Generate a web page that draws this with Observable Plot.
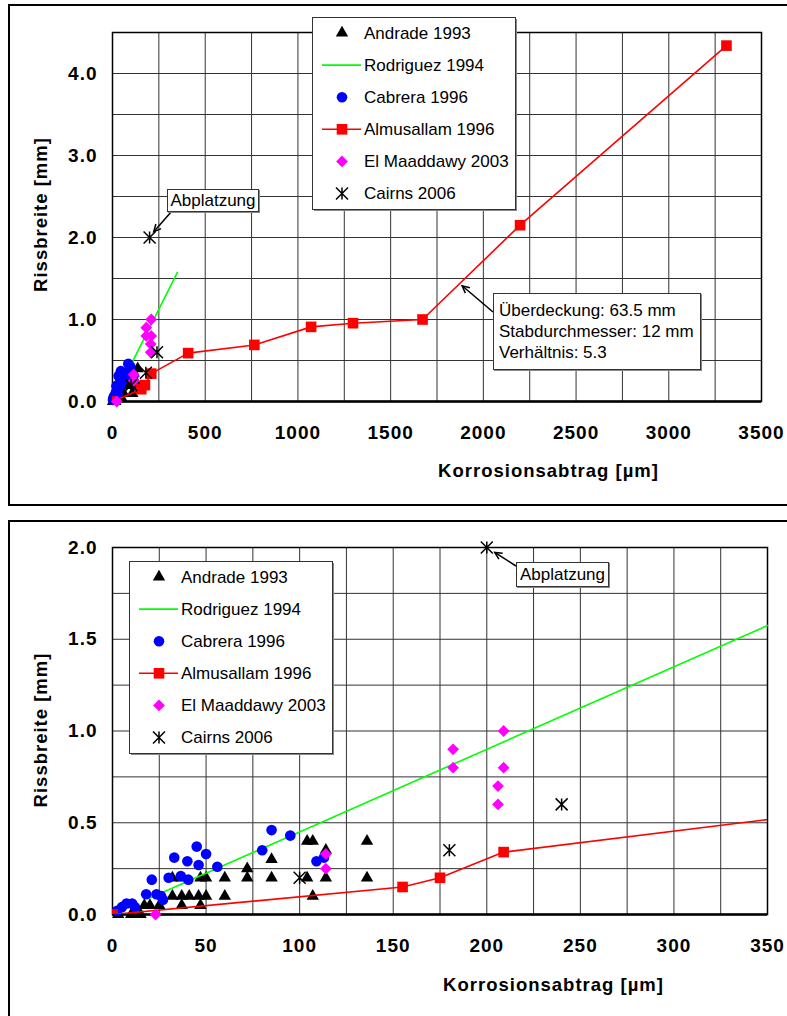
<!DOCTYPE html>
<html><head><meta charset="utf-8">
<script src="https://cdn.jsdelivr.net/npm/d3@7"></script>
<script src="https://cdn.jsdelivr.net/npm/@observablehq/plot@0.6"></script>
<style>
html,body{margin:0;padding:0;background:#fff;overflow:hidden;width:787px;height:1016px;}
#root{position:relative;width:787px;height:1016px;overflow:hidden;font-family:"Liberation Sans",Arial,sans-serif;}
.panel{position:absolute;border:2px solid #000;box-sizing:content-box;background:#fff;}
.chart{position:absolute;left:0;}
.chart text{letter-spacing:1px;}
.note{position:absolute;background:#fff;border:1px solid #333;box-shadow:1px 1px 0 #888;font-size:17px;line-height:21px;color:#000;white-space:nowrap;box-sizing:border-box;}
</style></head><body><div id="root"></div>
<script>
// ---------- data ----------
const seriesNames = ["Andrade 1993","Rodriguez 1994","Cabrera 1996","Almusallam 1996","El Maaddawy 2003","Cairns 2006"];
// [Korrosionsabtrag µm, Rissbreite mm]
const andrade = [[3,0],[10,0],[15,0],[17,0.05],[20,0.05],[25,0.05],[32,0.1],[37,0.1],[41,0.1],[46,0.1],[50,0.1],[60,0.1],
  [37,0.05],[47,0.05],[32,0.2],[37,0.2],[47,0.2],[50,0.2],[60,0.2],[72,0.25],[72,0.2],[85,0.3],[85,0.2],
  [104,0.4],[107,0.4],[104,0.2],[107,0.1],[114,0.35],[114,0.2],[136,0.4],[136,0.2]];
const rodriguez = [[20,0.09],[350,1.575]];
const cabrera = [[2.5,0.02],[5,0.04],[7.5,0.06],[10.5,0.06],[12,0.04],[18,0.11],[21,0.19],[23.5,0.11],[26,0.1],[27,0.08],
  [30,0.2],[33,0.31],[36.5,0.21],[40,0.29],[40.5,0.19],[45,0.37],[46,0.27],[50,0.33],[56,0.26],[80,0.35],[85,0.46],
  [95,0.43],[109,0.29],[113,0.31]];
const almusallam = [[0,0],[155,0.15],[175,0.2],[209,0.34],[408,0.59],[765,0.69],[1071,0.91],[1297,0.955],[1672,1.0],[2198,2.15],[3311,4.34]];
const elMaaddawy = [[23,0],[114,0.25],[114,0.33],[182,0.8],[182,0.9],[206,0.6],[206,0.7],[209,0.8],[209,1.0]];
const cairns = [[100,0.2],[180,0.35],[200,2.0],[240,0.6]];

const xTicksTop = [0,500,1000,1500,2000,2500,3000,3500];
const yTicksTop = [0,1,2,3,4];
const xTicksBottom = [0,50,100,150,200,250,300,350];
const yTicksBottom = [0,0.5,1,1.5,2];
const xLabel = "Korrosionsabtrag [\u00b5m]";
const yLabel = "Rissbreite [mm]";
const spallText = "Abplatzung";
const noteLines = ["\u00dcberdeckung: 63.5 mm","Stabdurchmesser: 12 mm","Verh\u00e4ltnis: 5.3"];

// ---------- styles ----------
const FONT = "'Liberation Sans', Arial, Helvetica, sans-serif";
const asterisk = {
  draw(ctx, size) {
    const r = Math.sqrt(size / Math.PI);
    ctx.moveTo(-r, -r); ctx.lineTo(r, r);
    ctx.moveTo(-r, r); ctx.lineTo(r, -r);
    ctx.moveTo(0, -r); ctx.lineTo(0, r);
  }
};
const GREEN = "#00ff00", BLUE = "#0000ff", RED = "#ff0000", MAG = "#ff00ff";
const R = {tri: 4.6, circ: 5.3, sq: 6, dia: 5.3, star: 6};

const root = document.getElementById("root");

function panel(left, top, w, h) {
  const d = document.createElement("div");
  d.className = "panel";
  Object.assign(d.style, {left: left + "px", top: top + "px", width: w + "px", height: h + "px"});
  root.appendChild(d);
}

function makeChart(o) {
  const xy = {x: d => d[0], y: d => d[1]};
  const chart = Plot.plot({
    width: 787, height: o.height,
    marginLeft: o.ml, marginRight: o.mr, marginTop: o.mt, marginBottom: o.mb,
    x: {domain: o.xDomain}, y: {domain: o.yDomain},
    style: {fontFamily: FONT, background: "transparent", overflow: "visible", color: "#000"},
    marks: [
      Plot.gridX(o.xGrid, {stroke: "#333", strokeOpacity: 1, strokeWidth: 1}),
      Plot.gridY(o.yGrid, {stroke: "#333", strokeOpacity: 1, strokeWidth: 1}),
      Plot.frame({stroke: "#000", strokeWidth: 1.5}),
      Plot.ruleY([0], {stroke: "#000", strokeWidth: 2.5}),
      Plot.dot(andrade, {...xy, symbol: "triangle", r: R.tri, fill: "#000"}),
      Plot.line(rodriguez, {...xy, stroke: GREEN, strokeWidth: 1.6}),
      Plot.dot(cabrera, {...xy, symbol: "circle", r: R.circ, fill: BLUE}),
      Plot.line(almusallam, {...xy, stroke: RED, strokeWidth: 1.6, clip: true}),
      Plot.dot(almusallam, {...xy, symbol: "square", r: R.sq, fill: RED, clip: true}),
      Plot.dot(elMaaddawy, {...xy, symbol: "diamond2", r: R.dia, fill: MAG}),
      Plot.dot(cairns, {...xy, symbol: asterisk, r: R.star, stroke: "#000", fill: "none", strokeWidth: 1.5}),
      Plot.axisX(o.xTicks, {tickSize: 0, tickPadding: 24, tickFormat: d => String(d), fontSize: 19, fontWeight: "bold", label: null}),
      Plot.axisY(o.yTicks, {tickSize: 0, tickPadding: 15, tickFormat: d3.format(".1f"), fontSize: 19, fontWeight: "bold", label: null}),
      Plot.text([xLabel], {frameAnchor: "bottom", textAnchor: "middle", dx: o.xlDx, dy: o.xlDy, fontSize: 18.5, fontWeight: "bold", lineAnchor: "middle"}),
      Plot.text([yLabel], {frameAnchor: "left", textAnchor: "middle", rotate: -90, dx: -71, dy: o.ylDy, fontSize: 18.5, fontWeight: "bold", lineAnchor: "middle"})
    ]
  });
  chart.classList.add("chart");
  chart.style.top = o.top + "px";
  chart.style.position = "absolute";
  root.appendChild(chart);
  return chart;
}

function legend(left, top) {
  const svg = d3.select(root).append("svg")
    .style("position", "absolute").style("left", left + "px").style("top", top + "px")
    .attr("width", 207).attr("height", 196);
  svg.append("rect").attr("x", 2).attr("y", 2).attr("width", 203).attr("height", 192).attr("fill", "#888");
  svg.append("rect").attr("x", 0.5).attr("y", 0.5).attr("width", 203).attr("height", 192).attr("fill", "#fff").attr("stroke", "#333");
  const sym = (t, r) => d3.symbol().type(t).size(Math.PI * r * r)();
  seriesNames.forEach((name, i) => {
    const cy = 16 + i * 32.1;
    const g = svg.append("g").attr("transform", `translate(0,${cy})`);
    const cx = 30;
    if (i === 0) g.append("path").attr("d", sym(d3.symbolTriangle, R.tri)).attr("transform", `translate(${cx},0)`).attr("fill", "#000");
    if (i === 1) g.append("line").attr("x1", 10).attr("x2", 49).attr("stroke", GREEN).attr("stroke-width", 1.6);
    if (i === 2) g.append("path").attr("d", sym(d3.symbolCircle, R.circ)).attr("transform", `translate(${cx},0)`).attr("fill", BLUE);
    if (i === 3) {
      g.append("line").attr("x1", 10).attr("x2", 49).attr("stroke", RED).attr("stroke-width", 1.6);
      g.append("path").attr("d", sym(d3.symbolSquare, R.sq)).attr("transform", `translate(${cx},0)`).attr("fill", RED);
    }
    if (i === 4) g.append("path").attr("d", sym(d3.symbolDiamond2, R.dia)).attr("transform", `translate(${cx},0)`).attr("fill", MAG);
    if (i === 5) g.append("path").attr("d", sym(asterisk, R.star)).attr("transform", `translate(${cx},0)`).attr("fill", "none").attr("stroke", "#000").attr("stroke-width", 1.5);
    g.append("text").attr("x", 52).attr("y", 0).attr("dy", "0.35em")
      .attr("font-family", FONT).attr("font-size", 17).attr("fill", "#000").text(name);
  });
}

function overlay(top, height) {
  return d3.select(root).append("svg").style("position", "absolute").style("left", "0px").style("top", top + "px")
    .attr("width", 787).attr("height", height);
}
function arrow(svg, x1, y1, x2, y2, inset) {
  const a = Math.atan2(y2 - y1, x2 - x1);
  const ex = x2 - inset * Math.cos(a), ey = y2 - inset * Math.sin(a);
  svg.append("line").attr("x1", x1).attr("y1", y1).attr("x2", ex).attr("y2", ey).attr("stroke", "#000").attr("stroke-width", 1.5);
  const L = 8, w = 0.45;
  const p = d3.path();
  p.moveTo(ex - L * Math.cos(a - w), ey - L * Math.sin(a - w));
  p.lineTo(ex, ey);
  p.lineTo(ex - L * Math.cos(a + w), ey - L * Math.sin(a + w));
  svg.append("path").attr("d", p.toString()).attr("fill", "none").attr("stroke", "#000").attr("stroke-width", 1.5);
}
function note(left, top, w, h, lines, align, pad) {
  const d = document.createElement("div");
  d.className = "note";
  Object.assign(d.style, {left: left + "px", top: top + "px", width: w + "px", height: h + "px", textAlign: align, padding: pad});
  d.innerHTML = lines.map(s => `<div>${s}</div>`).join("");
  root.appendChild(d);
}

// ---------- panels ----------
panel(8, 4, 800, 498);
panel(8, 520, 800, 600);

const spall = cairns.find(d => d[1] === d3.max(cairns, c => c[1]));

// top chart
const c1 = makeChart({
  top: 0, height: 505, ml: 112, mr: 26, mt: 32, mb: 104,
  xDomain: [0, 3500], yDomain: [0, 4.5],
  xGrid: d3.range(0, 3501, 250), yGrid: d3.range(0, 4.51, 0.5),
  xTicks: xTicksTop, yTicks: yTicksTop,
  xlDx: 111.5, xlDy: 69.5, ylDy: -2.5
});
const sx1 = c1.scale("x"), sy1 = c1.scale("y");
const ov1 = overlay(0, 505);
arrow(ov1, 172, 211, sx1.apply(spall[0]), sy1.apply(spall[1]), 7);
// point on Almusallam segment for the note arrow
const a8 = almusallam[8], a9 = almusallam[9];
const tpx = sx1.apply(a8[0]) + 0.38 * (sx1.apply(a9[0]) - sx1.apply(a8[0]));
const tpy = sy1.apply(a8[1]) + 0.38 * (sy1.apply(a9[1]) - sy1.apply(a8[1]));
arrow(ov1, 493, 312, tpx, tpy, 4);
legend(312, 17);
note(167, 189, 92, 23, [spallText], "center", "0px 0px");
note(493, 293, 208, 77, noteLines, "left", "6px 0 0 5px");

// bottom chart
const c2 = makeChart({
  top: 505, height: 511, ml: 112, mr: 20, mt: 42, mb: 102,
  xDomain: [0, 350], yDomain: [0, 2],
  xGrid: d3.range(0, 351, 25), yGrid: d3.range(0, 2.01, 0.25),
  xTicks: xTicksBottom, yTicks: yTicksBottom,
  xlDx: 113.5, xlDy: 71, ylDy: -1
});
const sx2 = c2.scale("x"), sy2 = c2.scale("y");
const ov2 = overlay(505, 511);
arrow(ov2, 516, 566 - 505, sx2.apply(spall[0]), sy2.apply(spall[1]), 10);
legend(129, 561);
note(516, 562, 93, 25, [spallText], "center", "1px 0 0 0");
</script></body></html>
